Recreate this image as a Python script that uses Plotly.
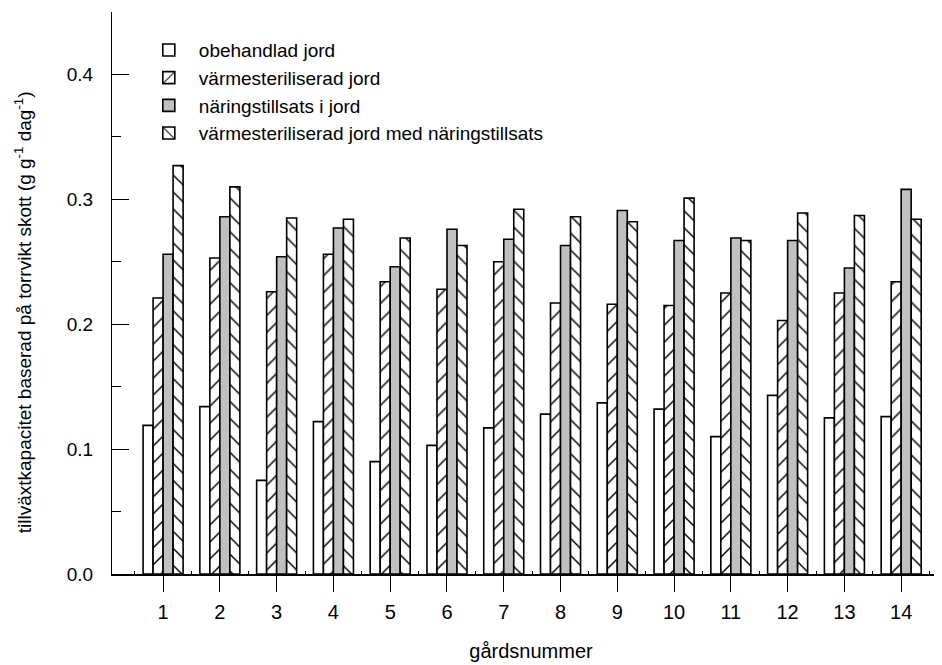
import plotly.graph_objects as go

farms = list(range(1, 15))
tick_labels = [str(i) for i in farms]

obehandlad = [0.119, 0.134, 0.075, 0.122, 0.090, 0.103, 0.117, 0.128, 0.137, 0.132, 0.110, 0.143, 0.125, 0.126]
varmesteriliserad = [0.221, 0.253, 0.226, 0.256, 0.234, 0.228, 0.250, 0.217, 0.216, 0.215, 0.225, 0.203, 0.225, 0.234]
naringstillsats = [0.256, 0.286, 0.254, 0.277, 0.246, 0.276, 0.268, 0.263, 0.291, 0.267, 0.269, 0.267, 0.245, 0.308]
steril_naring = [0.327, 0.310, 0.285, 0.284, 0.269, 0.263, 0.292, 0.286, 0.282, 0.301, 0.267, 0.289, 0.287, 0.284]

series_names = [
    "obehandlad jord",
    "värmesteriliserad jord",
    "näringstillsats i jord",
    "värmesteriliserad jord med näringstillsats",
]
y_title = "tillväxtkapacitet baserad på torrvikt skott (g g<sup>-1</sup> dag<sup>-1</sup>)"
x_title = "gårdsnummer"

FONT = "Liberation Sans, Arial, sans-serif"
LINE = dict(color="black", width=1.6)

fig = go.Figure()
fig.add_trace(go.Bar(x=farms, y=obehandlad, name=series_names[0],
                     marker=dict(color="white", line=LINE)))
fig.add_trace(go.Bar(x=farms, y=varmesteriliserad, name=series_names[1],
                     marker=dict(color="white", line=LINE,
                                 pattern=dict(shape="/", fillmode="replace", fgcolor="black",
                                              bgcolor="white", size=12, solidity=0.12))))
fig.add_trace(go.Bar(x=farms, y=naringstillsats, name=series_names[2],
                     marker=dict(color="#c0c0c0", line=LINE)))
fig.add_trace(go.Bar(x=farms, y=steril_naring, name=series_names[3],
                     marker=dict(color="white", line=LINE,
                                 pattern=dict(shape="\\", fillmode="replace", fgcolor="black",
                                              bgcolor="white", size=12, solidity=0.12))))

xr = [0.1, 14.86]
minor_x = [i + 0.5 for i in range(0, 15)]
fig.update_layout(
    width=942, height=665,
    margin=dict(l=104, r=0, t=4, b=99),
    paper_bgcolor="white", plot_bgcolor="white",
    font=dict(family=FONT, size=17, color="black"),
    barmode="group", bargap=0.295, bargroupgap=0,
    showlegend=True,
    legend=dict(x=0.032, y=0.966, xanchor="left", yanchor="top",
                bgcolor="rgba(0,0,0,0)", font=dict(size=19, family=FONT),
                itemwidth=50, traceorder="normal"),
    xaxis=dict(range=xr, tickvals=farms, ticktext=tick_labels,
               ticks="outside", ticklen=16, tickwidth=1, tickcolor="black",
               ticklabelstandoff=3,
               showline=True, linecolor="black", linewidth=1.5, mirror=False,
               showgrid=False, zeroline=False,
               tickfont=dict(size=20, family=FONT),
               minor=dict(tickvals=minor_x, ticks="inside",
                          ticklen=3, tickcolor="black", showgrid=False),
               title=dict(text=x_title, font=dict(size=20, family=FONT), standoff=22)),
    xaxis2=dict(range=xr, overlaying="x", side="top", anchor="y",
                tickvals=farms, showticklabels=False,
                ticks="inside", ticklen=17, tickwidth=1, tickcolor="black",
                showline=True, linecolor="black", linewidth=1,
                showgrid=False, zeroline=False,
                minor=dict(tickvals=minor_x, ticks="inside",
                           ticklen=3, tickcolor="black", showgrid=False)),
    yaxis=dict(range=[0, 0.45], dtick=0.1, tick0=0, tickformat=".1f",
               ticks="inside", ticklen=17, tickwidth=1, tickcolor="black",
               ticklabelstandoff=14,
               showline=True, linecolor="black", linewidth=1, mirror=False,
               showgrid=False, zeroline=False,
               tickfont=dict(size=19, family=FONT),
               minor=dict(dtick=0.05, ticks="inside", ticklen=9, tickcolor="black", showgrid=False)),
    yaxis2=dict(range=[0, 0.45], overlaying="y", side="right", anchor="x",
                dtick=0.1, tick0=0, showticklabels=False,
                ticks="inside", ticklen=15, tickwidth=1, tickcolor="black",
                showline=False, showgrid=False, zeroline=False),
    annotations=[dict(text=y_title, textangle=-90, xref="paper", yref="paper",
                      x=-0.106, y=0.466, xanchor="center", yanchor="middle",
                      showarrow=False, font=dict(size=19, family=FONT))],
)

fig.write_html("out.html")
